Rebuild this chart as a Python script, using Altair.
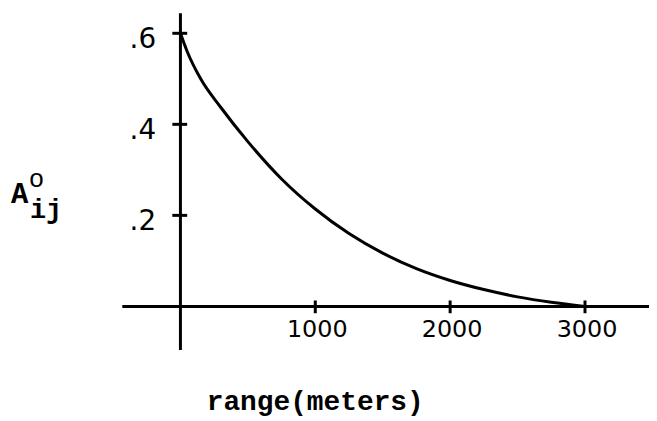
import altair as alt
import pandas as pd

# ---- data ----
range_m = [0, 50, 150, 300, 500, 750, 1000, 1250, 1500, 1750, 2000, 2250, 2500, 2750, 3000]
a_ij = [0.600, 0.560, 0.500, 0.437, 0.362, 0.280, 0.214, 0.160, 0.117, 0.083, 0.057,
        0.037, 0.021, 0.009, 0.0]

y_ticks = [0.2, 0.4, 0.6]
y_tick_labels = [".2", ".4", ".6"]
x_ticks = [1000, 2000, 3000]
x_tick_labels = ["1000", "2000", "3000"]

x_title = "range(meters)"

# ---- scales (shared by all layers) ----
W, H = 645, 410
xs = alt.Scale(domain=[-1278.6, 3474.6], nice=False, zero=False)
ys = alt.Scale(domain=[-0.2424, 0.6528], nice=False, zero=False)


def X(f="x"):
    return alt.X(f"{f}:Q", scale=xs, axis=None)


def Y(f="y"):
    return alt.Y(f"{f}:Q", scale=ys, axis=None)


curve_df = pd.DataFrame({"x": range_m, "y": a_ij})
curve = alt.Chart(curve_df).mark_line(
    color="black", strokeWidth=3, interpolate="monotone"
).encode(x=X(), y=Y())

# axis lines (crossing at the origin, extending past it)
xaxis_df = pd.DataFrame({"x": [-431], "x2": [3500], "y": [0.0]})
xaxis = alt.Chart(xaxis_df).mark_rule(color="black", strokeWidth=3).encode(
    x=X(), x2="x2:Q", y=Y()
)
yaxis_df = pd.DataFrame({"x": [0], "y": [-0.096], "y2": [0.644]})
yaxis = alt.Chart(yaxis_df).mark_rule(color="black", strokeWidth=3).encode(
    x=X(), y=Y(), y2="y2:Q"
)

# tick crosses
yt_df = pd.DataFrame({"x": [-60] * len(y_ticks), "x2": [50] * len(y_ticks), "y": y_ticks,
                      "xl": [-180] * len(y_ticks), "label": y_tick_labels})
ytick_marks = alt.Chart(yt_df).mark_rule(color="black", strokeWidth=3).encode(
    x=X(), x2="x2:Q", y=Y()
)
ytick_text = alt.Chart(yt_df).mark_text(
    align="right", baseline="alphabetic", dy=15,
    font="DejaVu Sans", fontSize=28, color="black"
).encode(x=X("xl"), y=Y(), text="label:N")

xt_df = pd.DataFrame({"x": x_ticks, "y": [0.013] * len(x_ticks), "y2": [-0.015] * len(x_ticks),
                      "yl": [0.0] * len(x_ticks), "label": x_tick_labels})
xtick_marks = alt.Chart(xt_df).mark_rule(color="black", strokeWidth=3).encode(
    x=X(), y=Y(), y2="y2:Q"
)
xtick_text = alt.Chart(xt_df).mark_text(
    align="center", baseline="alphabetic", dx=2, dy=31,
    font="DejaVu Sans", fontSize=24, color="black"
).encode(x=X(), y=Y("yl"), text="label:N")

# axis titles
xtitle_df = pd.DataFrame({"x": [195], "y": [-0.227], "t": [x_title]})
xtitle = alt.Chart(xtitle_df).mark_text(
    align="left", baseline="alphabetic", font="Liberation Mono", fontWeight="bold",
    fontSize=28, color="black"
).encode(x=X(), y=Y(), text="t:N")

ytitle_df = pd.DataFrame({
    "x": [-1256, -1116],
    "y": [0.227, 0.194],
    "t": ["A", "ij"],
    "size": [29, 27],
})
ytitle = alt.Chart(ytitle_df).mark_text(
    align="left", baseline="alphabetic", font="Liberation Mono", fontWeight="bold",
    color="black"
).encode(x=X(), y=Y(), text="t:N", size=alt.Size("size:Q", scale=None, legend=None))

ysup_df = pd.DataFrame({"x": [-1124], "y": [0.262], "t": ["o"]})
ysup = alt.Chart(ysup_df).mark_text(
    align="left", baseline="alphabetic", font="Liberation Mono", fontSize=26,
    color="black"
).encode(x=X(), y=Y(), text="t:N")

chart = alt.layer(
    xaxis, yaxis, ytick_marks, xtick_marks, curve, ytick_text, xtick_text, xtitle, ytitle, ysup
).properties(
    width=W, height=H,
    autosize=alt.AutoSizeParams(type="none"),
    padding=0,
    background="white",
).configure_view(stroke=None)

chart.save("out.html", embed_options={"renderer": "svg", "actions": False})
